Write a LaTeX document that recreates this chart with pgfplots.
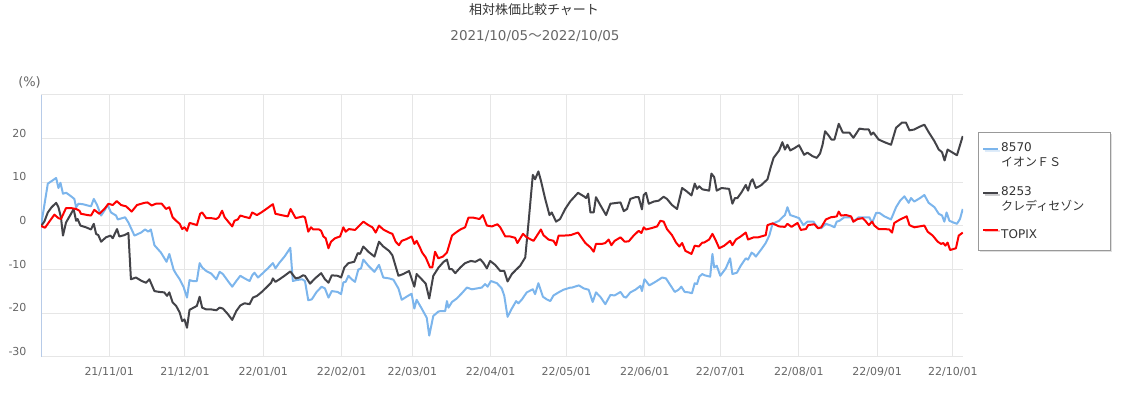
\documentclass[border=0pt]{standalone}
\usepackage{fontspec}
\setmainfont{DejaVu Sans}
\newfontfamily\cjk{Noto Sans CJK JP}
\usepackage{pgfplots}
\pgfplotsset{compat=1.18}
\usetikzlibrary{shadows}
\definecolor{cBlue}{HTML}{7CB5EC}
\definecolor{cDark}{HTML}{434348}
\definecolor{cRed}{HTML}{FF0000}
\definecolor{cGrid}{HTML}{E6E6E6}
\definecolor{cAxis}{HTML}{B7CBE8}
\definecolor{cLabel}{HTML}{666666}
\definecolor{cTitle}{HTML}{333333}
\definecolor{cLegend}{HTML}{999999}
\begin{document}
\begin{tikzpicture}[x=1pt,y=1pt]
\useasboundingbox (0,0) rectangle (1123,398);
\node[font=\cjk\fontsize{13}{15}\selectfont, text=cTitle] at (534,388.5) {相対株価比較チャート};
\node[font=\fontsize{13.5}{15}\selectfont, text=cLabel] at (535,362) {2021/10/05{\cjk ～}2022/10/05};
\node[font=\fontsize{13}{15}\selectfont, text=cLabel] at (29.5,315.5) {(\%)};
\begin{axis}[
  at={(41pt,41pt)}, anchor=south west, scale only axis,
  width=922pt, height=262pt,
  xmin=0, xmax=365, ymin=-30, ymax=30,
  axis x line*=bottom, axis y line*=left,
  separate axis lines,
  x axis line style={draw=cGrid, line width=1pt, -},
  y axis line style={draw=cAxis, line width=1pt, -},
  grid=major, grid style={draw=cGrid, line width=1pt},
  major tick length=0pt,
  xtick={27,57,88,119,147,178,208,239,269,300,331,361},
  xticklabels={21/11/01,21/12/01,22/01/01,22/02/01,22/03/01,22/04/01,22/05/01,22/06/01,22/07/01,22/08/01,22/09/01,22/10/01},
  ytick={-30,-20,-10,0,10,20,30},
  yticklabels={-30,-20,-10,0,10,20,{}},
  tick label style={font=\fontsize{11}{13}\selectfont, text=cLabel},
  xticklabel style={yshift=-6.5pt},
  yticklabel style={xshift=-11pt, yshift=5.5pt},
  legend style={at={(1.0163,0.8588)}, anchor=north west, draw=cLegend, fill=white,
    drop shadow={shadow xshift=1.5pt, shadow yshift=-1.5pt, opacity=0.25},
    font=\fontsize{12}{15}\selectfont, text=cTitle, inner xsep=4pt, inner ysep=8pt,
    row sep=14.5pt, cells={align=left}},
  legend cell align=left,
  legend image code/.code={\draw[#1, line width=2pt] (0pt,5.5pt) -- (15pt,5.5pt);},
  every axis plot/.append style={line width=2pt, line join=round, mark=none},
]
\addplot[cBlue] coordinates {
(0,0) (2.7,9.7) (4.0,10.2) (6.0,11.0) (6.9,8.7) (7.7,9.9) (8.7,7.4) (10.0,7.6) (11.9,6.8) (13.2,6.2) (13.9,4.3) (14.8,5.1) (16.5,5.0) (19.8,4.5) (20.9,6.2) (22.2,4.8) (23.8,2.4) (25.1,3.5) (26.4,4.8) (27.7,3.1) (29.7,2.4) (30.4,1.5) (33.3,2.0) (34.6,0.8) (37.0,-2.2) (39.6,-1.5) (41.2,-0.8) (42.5,-1.3) (43.5,-0.8) (44.9,-4.4) (47.5,-6.1) (49.7,-8.2) (50.8,-6.4) (52.5,-10.0) (53.5,-11.0) (54.9,-12.2) (56.4,-13.9) (57.8,-16.4) (58.8,-12.4) (60.1,-12.6) (61.7,-12.6) (62.8,-8.5) (63.8,-9.5) (65.4,-10.3) (67.4,-10.9) (69.4,-12.2) (70.7,-10.5) (72.0,-11.0) (74.0,-12.6) (75.7,-13.9) (77.3,-12.6) (78.9,-11.4) (80.6,-12.0) (82.6,-12.6) (83.6,-11.3) (84.5,-10.7) (85.9,-11.8) (87.8,-10.8) (89.8,-9.7) (91.8,-8.5) (92.8,-9.7) (94.4,-8.4) (96.4,-7.0) (98.7,-5.0) (99.7,-12.6) (101.0,-12.4) (103.4,-12.2) (104.5,-12.6) (105.8,-17.0) (107.2,-16.8) (109.1,-15.1) (111.1,-13.9) (112.4,-14.3) (113.8,-16.4) (115.1,-14.9) (117.4,-15.1) (118.8,-15.6) (119.7,-12.9) (120.6,-12.8) (121.7,-11.4) (123.0,-12.2) (124.3,-12.8) (125.6,-10.0) (126.7,-9.7) (127.6,-7.7) (129.6,-9.1) (132.0,-10.5) (133.8,-8.9) (135.5,-11.8) (137.8,-12.0) (139.5,-12.3) (141.5,-14.3) (142.8,-16.9) (144.7,-16.2) (146.7,-15.5) (147.8,-18.9) (148.7,-16.9) (150.7,-18.9) (152.7,-21.0) (153.7,-25.1) (155.3,-20.6) (157.3,-19.6) (158.0,-19.5) (160.0,-19.5) (160.7,-17.2) (161.3,-18.7) (162.7,-17.4) (164.6,-16.6) (166.6,-15.4) (168.6,-14.1) (170.6,-14.5) (172.5,-14.3) (174.5,-14.1) (175.8,-13.3) (176.8,-13.9) (178.1,-12.6) (180.5,-13.1) (182.4,-14.3) (183.4,-16.0) (184.7,-20.8) (186.4,-18.9) (188.1,-17.2) (189.0,-17.7) (190.4,-16.8) (192.3,-15.2) (194.7,-14.5) (195.6,-15.6) (196.9,-13.1) (198.7,-16.2) (200.2,-16.8) (201.6,-17.2) (202.9,-15.9) (204.9,-15.2) (206.8,-14.6) (209.6,-14.1) (210.2,-14.1) (212.9,-13.6) (214.9,-14.3) (216.8,-14.6) (218.4,-17.4) (219.7,-15.2) (221.4,-16.2) (223.4,-17.9) (225.4,-15.8) (227.1,-15.9) (229.4,-15.1) (230.7,-16.2) (231.6,-16.4) (233.3,-15.2) (235.3,-14.6) (237.3,-13.7) (237.9,-14.9) (238.9,-12.2) (239.5,-12.6) (240.8,-13.6) (243.2,-12.8) (245.9,-11.8) (247.4,-12.0) (249.2,-13.6) (250.9,-15.1) (252.4,-14.6) (253.5,-13.9) (254.8,-15.1) (256.4,-15.2) (257.7,-15.4) (258.8,-13.1) (259.7,-13.3) (260.6,-11.6) (261.8,-11.0) (262.8,-11.3) (264.9,-11.6) (265.8,-6.4) (266.5,-9.5) (267.5,-9.1) (268.9,-11.4) (271.1,-9.7) (272.8,-7.4) (273.7,-11.0) (275.5,-10.7) (277.0,-9.1) (279.0,-7.4) (279.9,-7.7) (281.3,-6.1) (282.1,-6.4) (283.0,-7.0) (285.2,-5.3) (286.9,-3.9) (288.3,-2.2) (289.6,0.5) (292.2,1.2) (293.5,2.0) (294.5,2.5) (295.5,4.3) (296.6,2.5) (298.2,2.2) (300.1,1.8) (301.8,0.2) (303.4,1.0) (305.8,1.0) (307.6,-0.5) (308.9,-0.5) (310.7,0.5) (312.7,0.1) (314.1,-0.3) (315.0,1.0) (316.1,1.2) (318.0,2.0) (320.7,2.0) (321.6,1.0) (323.7,2.0) (326.6,2.0) (327.9,2.0) (329.0,0.7) (330.6,3.0) (331.9,3.0) (333.9,2.2) (336.5,1.5) (338.5,4.3) (340.1,5.8) (341.8,6.8) (343.5,5.3) (344.4,6.4) (345.7,5.6) (348.0,6.4) (349.7,7.1) (351.4,5.3) (353.7,4.3) (355.4,2.8) (356.7,2.4) (357.6,1.0) (358.5,3.1) (359.6,1.2) (361.2,0.8) (362.6,0.5) (363.8,1.6) (364.9,3.9)
};
\addlegendentry{\makebox[103pt][l]{8570}\\{\cjk イオンＦＳ}}
\addplot[cDark] coordinates {
(0,0) (1.3,1.0) (2.7,3.1) (4.2,4.3) (6.0,5.3) (6.9,4.3) (7.9,2.0) (8.7,-2.2) (9.9,0.8) (11.9,2.8) (12.9,3.9) (13.9,1.2) (14.5,1.6) (15.6,0.1) (17.8,-0.3) (19.8,-0.8) (20.9,0.5) (21.8,-1.8) (22.7,-2.1) (23.8,-3.6) (25.7,-2.6) (27.5,-2.2) (28.4,-2.8) (30.1,-0.7) (31.0,-2.4) (33.0,-2.1) (34.6,-1.6) (35.6,-12.2) (37.6,-11.8) (39.9,-12.6) (41.6,-13.0) (42.9,-12.2) (44.9,-14.9) (46.8,-15.1) (48.8,-15.2) (49.9,-16.0) (50.8,-15.2) (52.1,-17.5) (53.5,-18.3) (54.9,-19.8) (55.9,-21.8) (56.8,-21.4) (57.8,-23.3) (58.8,-19.2) (60.4,-18.7) (61.7,-18.3) (62.8,-16.2) (63.8,-18.7) (65.4,-19.1) (67.4,-19.1) (69.4,-19.3) (70.7,-18.7) (72.0,-18.9) (74.0,-20.2) (75.7,-21.5) (77.3,-19.5) (78.9,-18.2) (80.6,-17.7) (82.6,-17.9) (83.9,-16.4) (85.5,-16.0) (87.2,-15.2) (89.2,-14.1) (91.1,-13.0) (91.8,-12.0) (92.8,-12.8) (94.4,-12.2) (96.4,-11.4) (98.7,-10.4) (100.8,-12.0) (102.3,-11.8) (103.7,-11.3) (104.5,-11.4) (106.5,-13.2) (108.5,-12.0) (110.9,-10.8) (112.4,-12.2) (113.8,-13.0) (115.1,-11.3) (117.4,-11.4) (118.8,-11.8) (120.1,-9.5) (121.7,-8.5) (124.0,-8.2) (125.4,-6.2) (126.3,-6.4) (127.6,-4.7) (129.6,-5.9) (132.0,-7.0) (133.8,-3.6) (135.5,-4.7) (137.8,-5.7) (139.1,-6.7) (141.5,-11.4) (143.4,-11.0) (145.7,-10.3) (147.8,-13.9) (148.7,-11.0) (150.7,-12.2) (152.3,-13.2) (153.7,-16.6) (155.3,-11.4) (157.4,-9.5) (159.4,-8.2) (160.7,-7.7) (161.7,-9.9) (162.7,-9.9) (164.0,-10.8) (166.0,-9.5) (167.9,-8.5) (170.2,-8.0) (171.9,-8.2) (173.9,-7.6) (175.2,-8.5) (176.5,-9.7) (177.8,-8.0) (179.8,-8.9) (181.8,-10.3) (183.4,-10.3) (184.7,-12.7) (186.4,-11.0) (188.1,-10.0) (189.7,-9.1) (191.7,-7.2) (193.0,0.8) (194.7,11.7) (195.6,10.7) (196.9,12.5) (197.9,10.4) (199.6,6.2) (201.3,2.5) (202.2,3.1) (203.9,1.0) (205.5,1.6) (207.5,3.9) (209.6,5.7) (212.6,7.6) (214.9,6.8) (215.8,6.4) (216.6,7.4) (217.5,3.1) (218.8,3.1) (219.7,6.6) (221.4,4.8) (223.7,2.5) (225.4,5.1) (228.0,5.3) (229.4,5.4) (230.7,3.4) (232.0,3.9) (233.3,6.2) (235.3,6.6) (236.6,6.6) (237.9,3.8) (238.6,7.1) (239.5,7.6) (240.6,5.1) (242.6,5.6) (244.5,5.8) (246.5,6.7) (247.8,6.2) (249.8,4.8) (251.8,3.9) (253.8,8.7) (255.7,7.9) (257.5,7.0) (258.8,9.7) (259.7,8.5) (260.6,9.1) (261.8,8.4) (264.5,8.1) (265.4,12.0) (266.5,11.2) (267.5,8.1) (269.4,8.7) (272.4,8.5) (273.7,5.1) (274.7,6.4) (275.7,6.4) (277.3,7.7) (279.0,9.4) (279.9,8.1) (281.0,10.2) (281.7,10.7) (283.0,8.7) (285.0,9.3) (287.6,10.7) (288.9,13.5) (290.0,15.6) (292.2,17.3) (293.5,19.2) (294.5,17.5) (295.5,18.6) (296.6,17.3) (298.2,17.8) (300.1,18.5) (302.1,16.3) (303.4,16.8) (305.4,16.0) (307.1,15.6) (308.4,16.6) (309.4,18.6) (310.4,21.7) (311.7,20.8) (312.9,19.8) (314.1,19.8) (315.8,23.4) (317.4,21.4) (320.0,21.4) (321.6,20.2) (324.0,22.3) (326.3,22.1) (327.7,22.1) (328.6,20.9) (329.5,21.4) (331.6,19.8) (333.9,19.2) (336.5,18.6) (338.5,22.5) (340.9,23.7) (342.4,23.7) (343.8,21.9) (345.7,22.1) (347.7,22.7) (349.7,23.2) (351.4,21.5) (353.7,19.4) (355.4,17.5) (356.7,16.9) (357.7,15.0) (358.9,17.5) (360.9,16.8) (362.6,16.2) (364.9,20.6)
};
\addlegendentry{\makebox[103pt][l]{8253}\\{\cjk クレディセゾン}}
\addplot[cRed] coordinates {
(0,0) (1.6,-0.4) (3.3,1.0) (5.3,2.6) (6.9,1.8) (7.9,1.6) (9.9,4.1) (11.9,4.1) (13.9,3.9) (15.2,3.5) (15.8,2.8) (18.5,2.5) (19.8,2.4) (21.1,3.7) (23.1,2.8) (25.1,3.9) (26.7,5.1) (28.4,4.8) (30.0,5.7) (31.7,4.8) (33.7,4.5) (35.9,3.3) (38.0,4.8) (40.9,5.3) (42.2,5.4) (43.8,4.7) (45.5,5.1) (47.8,5.1) (49.5,3.9) (50.8,4.3) (52.1,2.0) (53.5,1.2) (54.9,0.5) (55.9,-0.7) (56.8,-0.3) (57.8,-1.1) (58.8,0.7) (60.1,0.5) (61.7,0.2) (63.0,2.8) (63.8,3.1) (65.4,1.8) (67.4,1.8) (69.4,1.6) (70.4,2.0) (71.7,3.5) (72.7,2.0) (74.4,0.8) (75.7,-0.1) (76.6,1.2) (77.9,1.5) (78.9,2.4) (80.6,2.1) (82.6,1.8) (83.6,3.1) (85.5,2.5) (87.2,3.1) (89.2,3.9) (91.8,5.0) (92.8,2.8) (95.1,2.5) (97.7,2.2) (98.8,3.9) (100.8,1.8) (102.3,2.0) (103.7,2.2) (104.5,2.0) (105.8,-1.3) (106.9,-0.3) (107.8,-0.8) (110.1,-0.8) (110.9,-1.1) (111.8,-2.4) (112.7,-2.8) (113.8,-5.1) (114.8,-3.6) (116.4,-2.8) (118.4,-2.4) (119.7,-0.3) (120.6,-1.3) (121.9,-0.7) (124.3,-0.9) (125.4,-0.3) (127.6,1.0) (129.6,0.2) (131.2,-0.3) (132.5,-1.5) (133.8,0.1) (135.5,-0.8) (137.8,-1.5) (139.1,-1.8) (140.4,-3.6) (141.7,-4.4) (142.8,-3.4) (144.7,-3.0) (146.7,-2.4) (147.8,-4.1) (148.7,-3.4) (150.0,-4.9) (150.9,-6.1) (152.3,-7.2) (154.0,-9.5) (154.9,-9.5) (156.0,-5.9) (157.3,-7.4) (159.1,-7.0) (160.7,-6.1) (162.7,-2.2) (164.0,-1.6) (166.0,-0.8) (167.9,-0.3) (169.2,1.9) (171.2,1.9) (173.6,1.6) (174.9,2.5) (176.5,0.1) (178.5,-0.1) (180.7,0.4) (181.8,-0.3) (183.8,-2.4) (185.7,-2.4) (187.7,-2.7) (188.6,-3.9) (190.8,-1.8) (192.3,-2.6) (195.0,-3.4) (197.9,-0.8) (198.9,-2.1) (200.9,-3.1) (202.9,-3.4) (203.9,-4.4) (204.9,-2.2) (206.8,-2.2) (209.6,-2.1) (212.6,-1.5) (215.5,-3.9) (217.5,-4.9) (218.8,-5.9) (219.7,-4.1) (222.1,-4.1) (223.4,-3.9) (224.7,-3.1) (225.8,-4.4) (227.1,-3.4) (229.4,-2.6) (231.1,-3.6) (232.7,-3.5) (234.6,-2.2) (236.6,-1.1) (237.7,-1.6) (238.6,-0.3) (239.5,-0.8) (241.6,-0.5) (243.9,-0.1) (245.2,1.2) (246.5,1.0) (247.8,-0.7) (249.8,-2.1) (251.4,-3.8) (252.7,-4.7) (253.8,-3.9) (255.1,-5.7) (257.5,-6.4) (258.8,-4.5) (260.4,-4.7) (261.8,-3.8) (262.5,-3.8) (264.5,-3.1) (265.8,-1.8) (267.2,-3.4) (268.5,-5.1) (270.5,-4.5) (272.8,-3.4) (273.7,-4.4) (275.1,-3.1) (277.0,-2.4) (279.0,-1.5) (279.9,-3.1) (282.1,-2.6) (283.9,-2.6) (286.9,-2.1) (287.6,0.2) (289.6,0.6) (292.2,-0.1) (294.5,-0.2) (295.5,0.5) (297.1,-0.2) (299.5,0.7) (300.8,-0.9) (302.8,-0.7) (303.7,0.2) (306.1,0.4) (307.6,-0.5) (308.9,-0.3) (310.7,1.5) (312.7,2.0) (314.1,2.1) (315.0,2.2) (315.8,3.3) (316.7,2.4) (318.7,2.5) (320.7,2.2) (321.6,1.0) (323.3,1.6) (325.3,1.8) (326.6,1.0) (327.7,0.2) (329.0,1.0) (329.9,0.1) (331.6,-0.7) (333.9,-0.7) (335.8,-0.8) (336.9,-1.5) (337.8,0.7) (340.1,1.5) (342.7,2.2) (343.8,0.2) (345.7,-0.3) (347.7,-0.1) (349.7,0.1) (351.0,-1.3) (353.0,-2.2) (355.0,-3.6) (356.3,-4.1) (357.2,-3.9) (358.0,-4.5) (358.9,-3.8) (359.9,-5.5) (362.2,-5.1) (363.3,-2.2) (364.9,-1.5)
};
\addlegendentry{\makebox[103pt][l]{TOPIX}}
\end{axis}
\end{tikzpicture}
\end{document}
